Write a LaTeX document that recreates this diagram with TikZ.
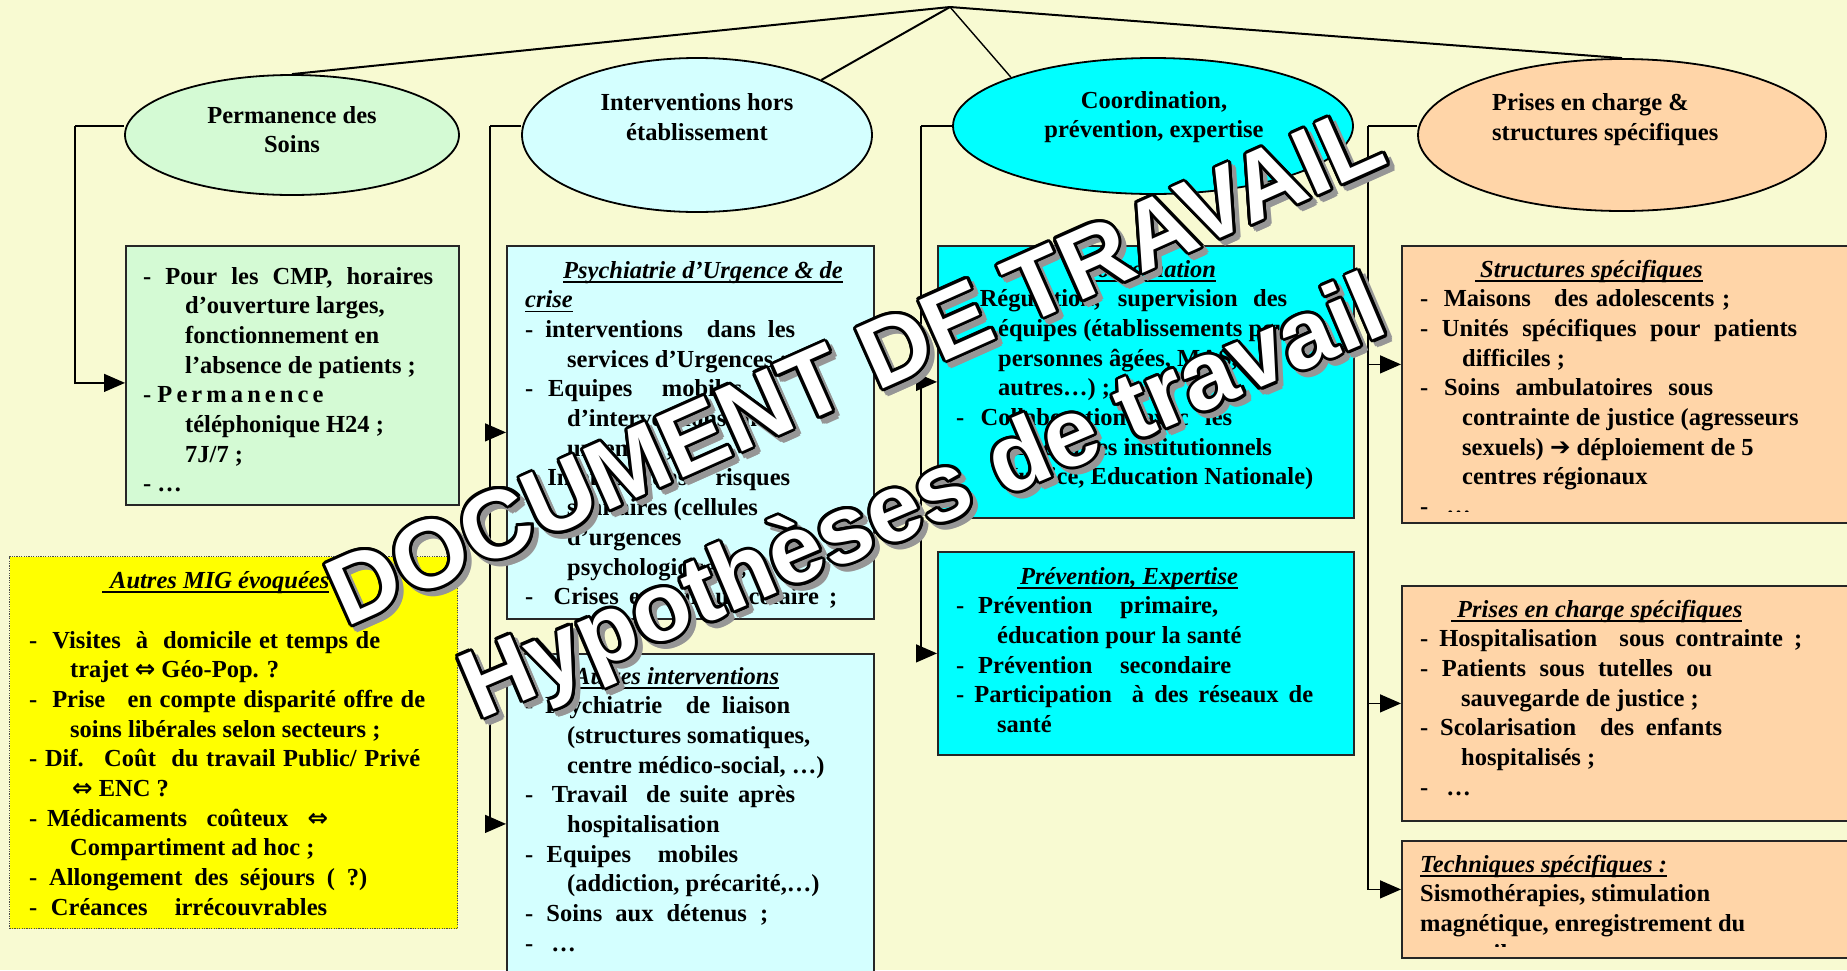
\documentclass[tikz,border=0pt]{standalone}
\usepackage{fontspec}
\setmainfont{Liberation Serif}
\newfontfamily\sym{DejaVu Sans}
\newfontfamily\wmfont{Liberation Sans}
\usetikzlibrary{shapes.geometric,arrows.meta,calc}
\definecolor{bgc}{RGB}{248,250,210}
\definecolor{grn}{RGB}{212,250,212}
\definecolor{lcy}{RGB}{212,255,255}
\definecolor{cyn}{RGB}{0,255,255}
\definecolor{pch}{RGB}{255,213,168}
\definecolor{ylw}{RGB}{255,255,0}
\definecolor{wmsh}{RGB}{150,150,150}
\newcommand\ulx[1]{\setbox0\hbox{#1}\rlap{\rule[-4.5pt]{\wd0}{1.6pt}}\box0}
\newcommand\jl[2]{\makebox[#1pt][s]{#2}}
\newcommand\ind{\hspace*{42pt}}
\newcommand\putlines[4]{\foreach \xl [count=\nn] in {#4}{\node[txt] (#1\nn) at (#2,{#3+(\nn-1)*29.7}) {\xl};}}
\newcommand\wmtext[4]{%
  \foreach \a [count=\k] in {0,45,...,315}{\node[wm,rotate=#4,text=wmsh] (#1s\k) at ($(#2)+(\a:3)+(5,5)$) {#3};}%
  \foreach \a [count=\k] in {0,22.5,...,337.5}{\node[wm,rotate=#4,text=black] (#1o\k) at ($(#2)+(\a:3)$) {#3};}%
  \node[wm,rotate=#4,text=white] (#1) at (#2) {#3};}
\begin{document}
\begin{tikzpicture}[x=1pt,y=-1pt,
  txt/.style={font=\fontsize{24.5}{29.7}\selectfont\bfseries, inner sep=0pt, anchor=base west, text=black},
  ctxt/.style={txt, anchor=base},
  ell/.style={ellipse, draw=black, line width=1.8pt, inner sep=0pt},
  boxs/.style={rectangle, draw=black!85, line width=1.8pt, inner sep=0pt, anchor=north west},
  conn/.style={draw=black, line width=1.4pt},
  top/.style={draw=black, line width=2pt},
  arr/.style={conn, -{Triangle[length=21pt,width=18pt]}},
  wm/.style={font=\wmfont\fontsize{96}{96}\selectfont\bfseries, inner sep=0pt, anchor=center}]
\useasboundingbox (0,0) rectangle (1847,970);
\fill[bgc] (0,0) rectangle (1847,970);

% ellipses
\node[ell, fill=grn, minimum width=334, minimum height=120] (perm) at (292,135) {};
\node[ell, fill=lcy, minimum width=350, minimum height=154] (int) at (697,135) {};
\node[ell, fill=cyn, minimum width=400, minimum height=136] (coord) at (1153,126) {};
\node[ell, fill=pch, minimum width=408, minimum height=152] (pris) at (1622,135) {};

\node[ctxt] (permT1) at (292,123) {Permanence des};
\node[ctxt] (permT2) at (292,152) {Soins};
\node[ctxt] (intT1) at (697,110) {Interventions hors};
\node[ctxt] (intT2) at (697,140) {établissement};
\node[ctxt] (coordT1) at (1154,108) {Coordination,};
\node[ctxt] (coordT2) at (1154,137) {prévention, expertise};
\node[txt] (prisT1) at (1492,110) {Prises en charge \&};
\node[txt] (prisT2) at (1492,140) {structures spécifiques};

% top connectors
\coordinate (apex) at (950,7);
\draw[top] (apex) -- (perm.north);
\draw[top] (apex) -- (int.north east);
\draw[conn] (apex) -- (coord.north west);
\draw[top] (apex) -- (pris.north);

% boxes
\node[boxs, fill=grn, minimum width=333, minimum height=259] (pbox) at (125,245) {};
\node[boxs, fill=lcy, minimum width=367, minimum height=373] (ubox) at (506,245) {};
\node[boxs, fill=lcy, minimum width=367, minimum height=340] (abox) at (506,653) {};
\node[boxs, fill=cyn, minimum width=416, minimum height=272] (cbox) at (937,245) {};
\node[boxs, fill=cyn, minimum width=416, minimum height=203] (vbox) at (937,551) {};
\node[boxs, fill=pch, minimum width=460, minimum height=277] (sbox) at (1401,245) {};
\node[boxs, fill=pch, minimum width=460, minimum height=235] (hbox) at (1401,585) {};
\node[boxs, fill=pch, minimum width=460, minimum height=117] (tbox) at (1401,840) {};
\node[rectangle, anchor=north west, fill=ylw, draw=black!70, line width=1.2pt, dash pattern=on 1.2pt off 1.2pt, minimum width=448, minimum height=372] (ybox) at (9,556) {};

% bracket connectors
\coordinate (t1) at (75,126);
\coordinate (t2) at (490,126);
\coordinate (t3) at (921,126);
\coordinate (t4) at (1368,126);
\draw[conn] ([yshift=9pt]perm.west) -- (t1);
\draw[arr] (t1) |- ([yshift=-7.5pt]pbox.west);
\draw[conn] ([yshift=9pt]int.west) -- (t2);
\draw[arr] (t2) |- (ubox.west);
\draw[arr] (t2) |- (abox.west);
\draw[conn] (coord.west) -- (t3);
\draw[arr] (t3) |- (cbox.west);
\draw[arr] (t3) |- (vbox.west);
\draw[conn] ([yshift=9pt]pris.west) -- (t4);
\draw[arr] (t4) |- ([yshift=20pt]sbox.west);
\draw[arr] (t4) |- (hbox.west);
\draw[arr] (t4) |- ([yshift=10pt]tbox.west);

% texts
\putlines{g}{143}{284}{%
 {\jl{290}{- Pour les CMP, horaires}},
 {\ind d'ouverture larges,},
 {\ind fonctionnement en},
 {\ind l'absence de patients ;},
 {- \jl{153}{P e r m a n e n c e}},
 {\ind téléphonique H24 ;},
 {\ind 7J/7 ;},
 {- …}}

\putlines{u}{525}{278}{%
 {\hspace*{38pt}\ulx{\itshape Psychiatrie d'Urgence \& de}},
 {\ulx{\itshape crise}},
 {\jl{270}{- interventions \ dans les}},
 {\ind services d'Urgences ;},
 {\jl{217}{- Equipes \ mobiles}},
 {\ind d'interventions en},
 {\ind urgences ;},
 {\jl{265}{- Interventions \ risques}},
 {\ind sanitaires (cellules},
 {\ind d'urgences},
 {\ind psychologiques) ;},
 {\jl{312}{- \ Crises en milieu scolaire ;}}}

\putlines{a}{525}{684}{%
 {\hspace*{49pt}\ulx{\itshape Autres interventions}},
 {\jl{265}{- Psychiatrie \ de liaison}},
 {\ind (structures somatiques,},
 {\ind centre médico-social, …)},
 {\jl{270}{- \ Travail \ de suite après}},
 {\ind hospitalisation},
 {\jl{213}{- Equipes \ mobiles}},
 {\ind (addiction, précarité,…)},
 {\jl{243}{- Soins aux détenus ;}},
 {-\hspace{18pt}…}}

\putlines{c}{956}{277}{%
 {\hspace*{125pt}\ulx{\itshape Coordination}},
 {\jl{331}{- Régulation, supervision des}},
 {\ind équipes (établissements pour},
 {\ind personnes âgées, MAS,},
 {\ind autres…) ;},
 {\jl{276}{- Collaboration avec les}},
 {\ind partenaires institutionnels},
 {\ind (Justice, Education Nationale)}}

\putlines{v}{956}{584}{%
 {\hspace*{61pt}\ulx{\hspace{3pt}\itshape Prévention, Expertise}},
 {\jl{262}{- Prévention \ primaire,}},
 {\hspace*{41pt}éducation pour la santé},
 {\jl{275}{- Prévention \ secondaire}},
 {\jl{357}{- Participation \ à des réseaux de}},
 {\hspace*{41pt}santé}}

\begin{scope}
\clip (1401,245) rectangle (1860,511.5);
\putlines{s}{1420}{277}{%
 {\hspace*{55pt}\ulx{\hspace{5pt}\itshape Structures spécifiques}},
 {\jl{310}{- \ Maisons \ \ des adolescents ;}},
 {\jl{377}{- Unités spécifiques pour patients}},
 {\ind difficiles ;},
 {\jl{293}{- Soins ambulatoires sous}},
 {\ind contrainte de justice (agresseurs},
 {\ind sexuels) {\sym ➔} déploiement de 5},
 {\ind centres régionaux},
 {-\hspace{18pt}…}}
\end{scope}

\putlines{h}{1420}{617}{%
 {\hspace*{31pt}\ulx{\hspace{6pt}\itshape Prises en charge spécifiques}},
 {\jl{382}{- Hospitalisation \ sous contrainte ;}},
 {\jl{292}{- Patients sous tutelles ou}},
 {\hspace*{41pt}sauvegarde de justice ;},
 {\jl{302}{- Scolarisation \ des enfants}},
 {\hspace*{41pt}hospitalisés ;},
 {-\hspace{18pt}…}}

\begin{scope}
\clip (1401,840) rectangle (1860,946.5);
\putlines{t}{1420}{872}{%
 {\ulx{\itshape Techniques spécifiques :}},
 {Sismothérapies, stimulation},
 {magnétique, enregistrement du},
 {sommeil}}
\end{scope}

\node[txt] (yh) at (102,588) {\ulx{\hspace{8pt}\itshape Autres MIG évoquées}};
\putlines{y}{29}{648}{%
 {\jl{351}{- \ Visites \ à \ domicile et temps de}},
 {\hspace*{41pt}trajet {\sym ⇔} Géo-Pop. ?},
 {\jl{396}{- \ Prise \ \ en compte disparité offre de}},
 {\hspace*{41pt}soins libérales selon secteurs ;},
 {\jl{391}{- Dif. \ Coût \ du travail Public/ Privé}},
 {\hspace*{43pt}{\sym ⇔} ENC ?},
 {\jl{299}{- Médicaments \ coûteux \ {\sym ⇔}}},
 {\hspace*{41pt}Compartiment ad hoc ;},
 {\jl{338}{- Allongement des séjours ( ?)}},
 {\jl{298}{- Créances \ irrécouvrables}}}

% watermark
\coordinate (wmcA) at (855,365);
\coordinate (wmcB) at (925,503);
\wmtext{wmA}{wmcA}{DOCUMENT DE TRAVAIL}{24}
\wmtext{wmB}{wmcB}{Hypothèses de travail}{23}
\end{tikzpicture}
\end{document}
